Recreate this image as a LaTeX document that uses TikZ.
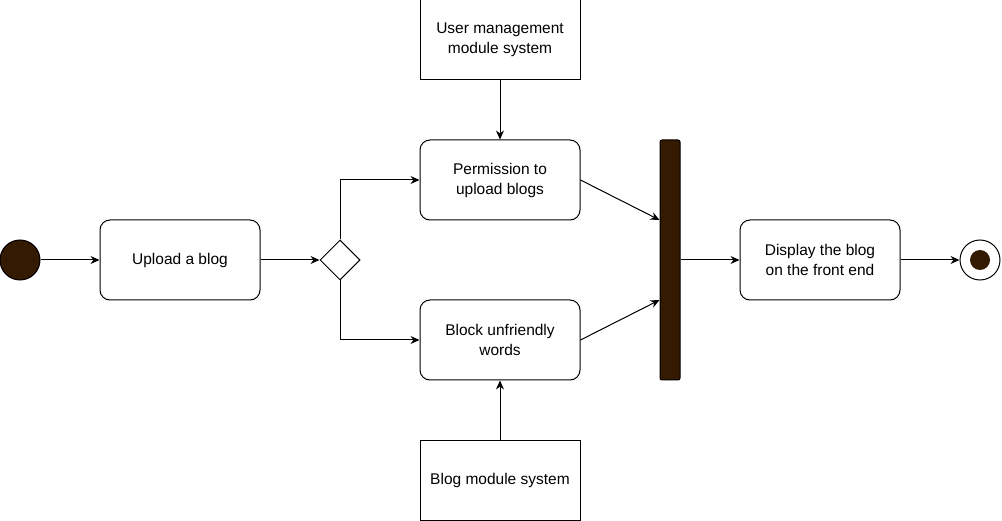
\documentclass[tikz,border=0pt]{standalone}
\usepackage{fontspec}
\setmainfont{Liberation Sans}
\usetikzlibrary{arrows.meta,shapes.geometric}
\definecolor{vblack}{HTML}{000000}
\definecolor{vbrown}{HTML}{331A00}

\begin{document}
\begin{tikzpicture}[x=1pt, y=-1pt, line width = 1pt,
		actbox/.style = {draw = vblack, rounded corners = 10pt, minimum width = 160pt, minimum height = 80pt, align = center, font = \fontsize{15.5}{20}\selectfont, inner sep = 0pt},
		sysbox/.style = {actbox, rounded corners = 0pt},
		flow/.style = {draw = vblack, -{Stealth[length = 9pt, width = 8pt]}}]
		\useasboundingbox (0,0) rectangle (1002,521);
		% activity-diagram
		\node[circle, draw = vblack, fill = vbrown, minimum size = 40pt, inner sep = 0pt] (start) at (20,260) {};
		\node[actbox] (upload) at (180,260) {Upload a blog};
		\node[diamond, draw = vblack, minimum width = 40pt, minimum height = 40pt, inner sep = 0pt] (choice) at (340,260) {};
		\node[actbox] (permit) at (500,180) {Permission to\\upload blogs};
		\node[actbox] (block) at (500,340) {Block unfriendly\\words};
		\node[sysbox] (usermod) at (500,40) {User management\\module system};
		\node[sysbox] (blogmod) at (500,480) {Blog module system};
		\node[draw = vblack, fill = vbrown, rounded corners = 2pt, minimum width = 20pt, minimum height = 240pt, inner sep = 0pt] (join) at (670,260) {};
		\node[actbox] (display) at (820,260) {Display the blog\\on the front end};
		\node[circle, draw = vblack, fill = white, minimum size = 40pt, inner sep = 0pt] (finish) at (980,260) {};
		\node[circle, fill = vbrown, minimum size = 20pt, inner sep = 0pt] (finishdot) at (980,260) {};
		\draw[flow] (start) -- (upload);
		\draw[flow] (upload) -- (choice);
		\draw[flow] (choice.north) |- (permit.west);
		\draw[flow] (choice.south) |- (block.west);
		\draw[flow] (usermod) -- (permit);
		\draw[flow] (blogmod) -- (block);
		\draw[flow] (permit.east) -- ([yshift = 40pt]join.west);
		\draw[flow] (block.east) -- ([yshift = -40pt]join.west);
		\draw[flow] (join) -- (display);
		\draw[flow] (display) -- (finish);
	\end{tikzpicture}
\end{document}
